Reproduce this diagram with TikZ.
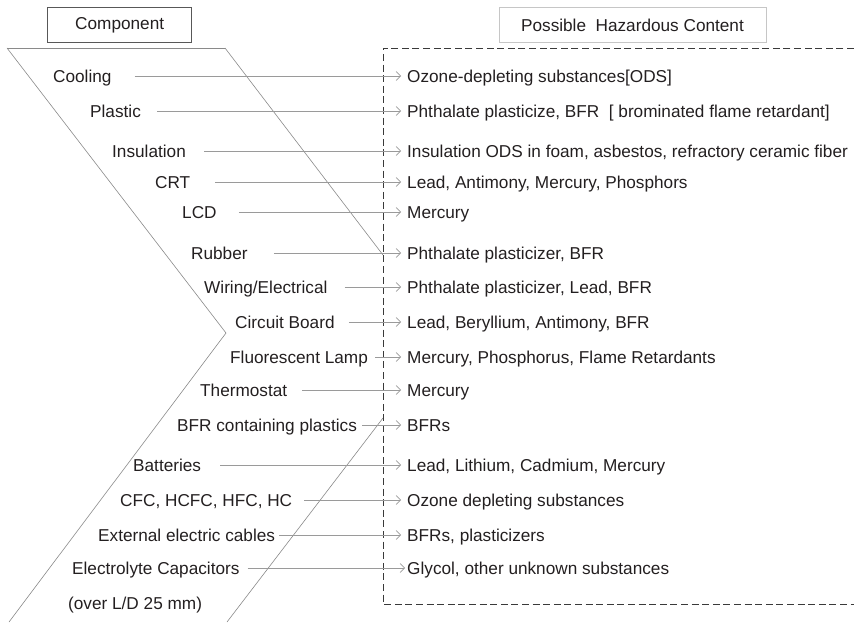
\documentclass[tikz,border=0pt]{standalone}
\usepackage{fontspec}
\setmainfont{Liberation Sans}
\usetikzlibrary{arrows.meta,calc}
\definecolor{ink}{HTML}{231F20}
\definecolor{wire}{HTML}{9A9A9A}
\definecolor{frame}{HTML}{8A8A8A}
\definecolor{dashink}{HTML}{3A3A3A}
\begin{document}
\begin{tikzpicture}[x=1pt,y=-1pt,
  txt/.style={inner sep=0pt,anchor=west,text=ink,font=\fontsize{17.2}{20}\selectfont,
              text height=12.4pt,text depth=0pt},
  arr/.style={draw=wire,line width=0.8pt,shorten >=6pt,
              -{Straight Barb[length=4.5pt,width=9pt,line width=0.6pt]}},
  chev/.style={draw=frame,line width=0.6pt},
  headbox/.style={draw,line width=0.9pt,minimum height=35pt,
                  text=ink,font=\fontsize{17.2}{20}\selectfont}]
\useasboundingbox (0,0) rectangle (854,623);

% column headings
\node[headbox,draw=dashink!85,minimum width=144pt] (hcomp) at (119.7,25) {Component};
\node[headbox,draw=gray!45,minimum width=267pt] (hhaz) at (632.5,25) {Possible\ \ Hazardous Content};

% chevron band behind the component list
\draw[chev] (7,48) -- (225,48);
\draw[chev] (7,48) -- (226,333) -- (9,622);
\draw[chev] (225,48) -- (383,255);
\draw[chev] (383,418) -- (227,622);

% dashed frame round the hazard list
\draw[draw=dashink,line width=0.9pt,dash pattern=on 7pt off 3.6pt]
  (854,48) -- (383,48) -- (383,604) -- (854,604);

% component labels
\node[txt] (l1)  at (53,76)    {Cooling};
\node[txt] (l2)  at (90,111)   {Plastic};
\node[txt] (l3)  at (112,151)  {Insulation};
\node[txt] (l4)  at (155,182)  {CRT};
\node[txt] (l5)  at (182,212)  {LCD};
\node[txt] (l6)  at (191,253)  {Rubber};
\node[txt] (l7)  at (204,287)  {Wiring/Electrical};
\node[txt] (l8)  at (235,322)  {Circuit Board};
\node[txt] (l9)  at (230,357)  {Fluorescent Lamp};
\node[txt] (l10) at (200,390)  {Thermostat};
\node[txt] (l11) at (177,425)  {BFR containing plastics};
\node[txt] (l12) at (133,465)  {Batteries};
\node[txt] (l13) at (120,500)  {CFC, HCFC, HFC, HC};
\node[txt] (l14) at (98,535)   {External electric cables};
\node[txt] (l15) at (72,568)   {Electrolyte Capacitors};
\node[txt] (l16) at (68,603)   {(over L/D 25 mm)};

% hazard labels
\node[txt] (r1)  at (407,76)   {Ozone-depleting substances[ODS]};
\node[txt] (r2)  at (407,111)  {Phthalate plasticize, BFR\ \ [ brominated flame retardant]};
\node[txt] (r3)  at (407,151)  {Insulation ODS in foam, asbestos, refractory ceramic fiber};
\node[txt] (r4)  at (407,182)  {Lead, Antimony, Mercury, Phosphors};
\node[txt] (r5)  at (407,212)  {Mercury};
\node[txt] (r6)  at (407,253)  {Phthalate plasticizer, BFR};
\node[txt] (r7)  at (407,287)  {Phthalate plasticizer, Lead, BFR};
\node[txt] (r8)  at (407,322)  {Lead, Beryllium, Antimony, BFR};
\node[txt] (r9)  at (407,357)  {Mercury, Phosphorus, Flame Retardants};
\node[txt] (r10) at (407,390)  {Mercury};
\node[txt] (r11) at (407,425)  {BFRs};
\node[txt] (r12) at (407,465)  {Lead, Lithium, Cadmium, Mercury};
\node[txt] (r13) at (407,500)  {Ozone depleting substances};
\node[txt] (r14) at (407,535)  {BFRs, plasticizers};
\node[txt] (r15) at (407,568)  {Glycol, other unknown substances};

% connectors
\draw[arr] ($(l1.east)+(23,0)$)  -- (r1.west);
\draw[arr] ($(l2.east)+(16,0)$)  -- (r2.west);
\draw[arr] ($(l3.east)+(18,0)$)  -- (r3.west);
\draw[arr] ($(l4.east)+(25,0)$)  -- (r4.west);
\draw[arr] ($(l5.east)+(22,0)$)  -- (r5.west);
\draw[arr] ($(l6.east)+(26,0)$)  -- (r6.west);
\draw[arr] ($(l7.east)+(17,0)$)  -- (r7.west);
\draw[arr] ($(l8.east)+(14,0)$)  -- (r8.west);
\draw[arr] ($(l9.east)+(7,0)$)   -- (r9.west);
\draw[arr] ($(l10.east)+(15,0)$) -- (r10.west);
\draw[arr] ($(l11.east)+(5,0)$)  -- (r11.west);
\draw[arr] ($(l12.east)+(19,0)$) -- (r12.west);
\draw[arr] ($(l13.east)+(12,0)$) -- (r13.west);
\draw[arr] ($(l14.east)+(4,0)$)  -- (r14.west);
\draw[arr,shorten >=2pt] ($(l15.east)+(8,0)$) -- (r15.west);
\end{tikzpicture}
\end{document}
